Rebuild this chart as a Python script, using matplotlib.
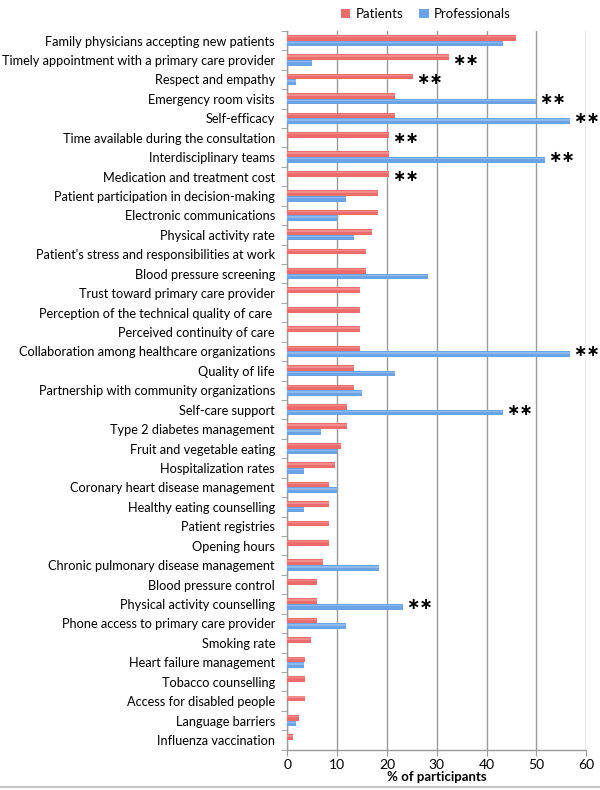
import matplotlib
matplotlib.use("Agg")
import matplotlib.pyplot as plt
import numpy as np
from matplotlib.patches import Patch
from matplotlib.lines import Line2D

categories = [
    "Family physicians accepting new patients",
    "Timely appointment with a primary care provider",
    "Respect and empathy",
    "Emergency room visits",
    "Self-efficacy",
    "Time available during the consultation",
    "Interdisciplinary teams",
    "Medication and treatment cost",
    "Patient participation in decision-making",
    "Electronic communications",
    "Physical activity rate",
    "Patient's stress and responsibilities at work",
    "Blood pressure screening",
    "Trust toward primary care provider",
    "Perception of the technical quality of care ",
    "Perceived continuity of care",
    "Collaboration among healthcare organizations",
    "Quality of life",
    "Partnership with community organizations",
    "Self-care support",
    "Type 2 diabetes management",
    "Fruit and vegetable eating",
    "Hospitalization rates",
    "Coronary heart disease management",
    "Healthy eating counselling",
    "Patient registries",
    "Opening hours",
    "Chronic pulmonary disease management",
    "Blood pressure control",
    "Physical activity counselling",
    "Phone access to primary care provider",
    "Smoking rate",
    "Heart failure management",
    "Tobacco counselling",
    "Access for disabled people",
    "Language barriers",
    "Influenza vaccination",
]
patients = [45.9, 32.5, 25.2, 21.7, 21.7, 20.5, 20.5, 20.5, 18.1, 18.1,
            16.9, 15.7, 15.7, 14.5, 14.5, 14.5, 14.5, 13.3, 13.3, 12.0,
            12.0, 10.8, 9.6, 8.4, 8.4, 8.4, 8.4, 7.2, 6.0, 6.0,
            6.0, 4.8, 3.6, 3.6, 3.6, 2.4, 1.2]
professionals = [43.2, 5.0, 1.7, 50.0, 56.7, 0, 51.7, 0, 11.7, 10.0,
                 13.3, 0, 28.3, 0, 0, 0, 56.7, 21.7, 15.0, 43.3,
                 6.7, 10.0, 3.3, 10.0, 3.3, 0, 0, 18.3, 0, 23.3,
                 11.7, 0, 3.3, 0, 0, 1.7, 0]
significant = [False, True, True, True, True, True, True, True, False, False,
               False, False, False, False, False, False, True, False, False, True,
               False, False, False, False, False, False, False, False, False, True,
               False, False, False, False, False, False, False]
series_names = ["Patients", "Professionals"]
x_ticks = [0, 10, 20, 30, 40, 50, 60]

plt.rcParams['font.family'] = ['Lato', 'DejaVu Sans']

red = "#EC6B6B"
red_hi = "#F7A5A5"
blue = "#6AA3E6"
blue_hi = "#A9CBF2"
grid_c = "#9A9A9A"

fig = plt.figure(figsize=(6, 7.9), dpi=100)
ax = fig.add_axes([0.479, 0.051, 0.498, 0.910])

n = len(categories)
y = np.arange(n)
h = 0.29

ax.barh(y - h / 2, patients, height=h, color=red, zorder=3)
ax.barh(y - h / 2 - h * 0.2, patients, height=h * 0.25, color=red_hi, zorder=3, alpha=0.6)
ax.barh(y + h / 2, professionals, height=h, color=blue, zorder=3)
ax.barh(y + h / 2 - h * 0.2, professionals, height=h * 0.25, color=blue_hi, zorder=3, alpha=0.6)

for i in range(n):
    if significant[i]:
        xv = max(patients[i], professionals[i])
        ax.text(xv + 0.6, y[i] + 0.02, "\u2217\u2217", fontsize=11.5, family="DejaVu Sans",
                fontweight="bold", ha="left", va="center", clip_on=False, zorder=4)

ax.set_xlim(0, 60)
ax.set_ylim(n - 0.5, -0.5)
ax.set_xticks(x_ticks)
ax.set_xticklabels([str(t) for t in x_ticks], fontsize=10)
ax.xaxis.grid(True, color=grid_c, linewidth=1.0, zorder=0)

ax.set_yticks(y)
ax.set_yticklabels(categories, fontsize=9.2)
ax.set_yticks(np.arange(n + 1) - 0.5, minor=True)
ax.tick_params(axis="y", which="major", length=0, pad=9)
ax.tick_params(axis="y", which="minor", length=4, color=grid_c, direction="out")
ax.tick_params(axis="x", which="major", length=4, color=grid_c, direction="out", pad=3)

for s in ["top", "right"]:
    ax.spines[s].set_visible(False)
for s in ["left", "bottom"]:
    ax.spines[s].set_color(grid_c)
    ax.spines[s].set_linewidth(1.0)

ax.set_xlabel("% of participants", fontsize=9.5, fontweight="bold", labelpad=0)

handles = [Patch(facecolor=red, edgecolor="none"), Patch(facecolor=blue, edgecolor="none")]
fig.legend(handles, series_names, loc="upper center", bbox_to_anchor=(0.71, 1.005),
           ncol=2, frameon=False, fontsize=9.5, handlelength=0.7, handleheight=0.7,
           handletextpad=0.4, columnspacing=1.2)

fig.add_artist(Line2D([0, 1], [0.004, 0.004], color="#BBBBBB", linewidth=1.2, transform=fig.transFigure))

fig.savefig("out.png", dpi=100)
